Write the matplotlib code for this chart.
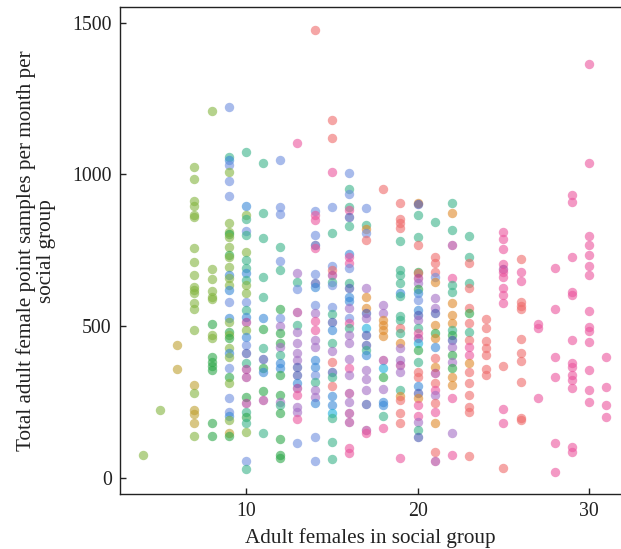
import matplotlib
matplotlib.use("Agg")
import matplotlib.pyplot as plt

# Point samples per month, listed for each adult-female count; the matching
# string gives the social group (A-M) of every value.
f04_samples = [75]
f04_groups = "D"
f05_samples = [223]
f05_groups = "D"
f06_samples = [437, 357]
f06_groups = "CC"
f07_samples = [1025, 984, 913, 896, 866, 858, 756, 710, 668, 630, 619, 608, 575, 555, 487, 305, 278, 223, 210, 179, 137]
f07_groups = "DDDDDDDDDDDDDDDCDCCCD"
f08_samples = [1209, 687, 654, 616, 597, 588, 506, 470, 462, 399, 382, 368, 355, 179, 137]
f08_groups = "DDDDDDEDDEEEEEE"
f09_samples = [1221, 1056, 1047, 1031, 1009, 979, 929, 841, 811, 803, 794, 761, 734, 726, 695, 668, 657, 635, 619, 580,
               525, 514, 481, 470, 459, 426, 410, 399, 360, 333, 311, 261, 217, 203, 190, 148, 137]
f09_groups = "IFHIDIIDDEDDEDDHDDHIHDEDEDHDIEDIIHDCE"
f10_samples = [1073, 896, 866, 852, 814, 800, 745, 717, 690, 674, 652, 635, 608, 580, 553, 531, 514, 487, 465, 437,
               410, 377, 357, 333, 267, 245, 217, 201, 179, 151, 56, 27]
f10_groups = "FHDFIFDFFHFDDIFHLDHIJFLLELFEFDIF"
f11_samples = [1036, 871, 789, 660, 594, 525, 489, 426, 390, 360, 349, 287, 256, 146]
f11_groups = "FFFFFHEFJEHELF"
f12_samples = [1047, 891, 869, 762, 715, 685, 555, 525, 500, 476, 445, 432, 404, 377, 360, 338, 272, 250, 239, 212,
               126, 75, 64]
f12_groups = "IIIFIFEIKEEKFHHEEKFEEEE"
f13_samples = [1104, 676, 646, 621, 547, 503, 481, 443, 410, 388, 366, 338, 311, 294, 272, 234, 217, 192, 113]
f13_groups = "MKFILFKKKKJJHLMKKMI"
f14_samples = [1475, 880, 866, 849, 800, 767, 756, 671, 643, 627, 569, 542, 518, 487, 454, 432, 388, 366, 338, 316,
               289, 267, 245, 135, 56]
f14_groups = "AIMMIJMIJHIKMMKKHHIFKKHII"
f15_samples = [1179, 1121, 1007, 891, 808, 698, 685, 668, 646, 635, 564, 540, 514, 487, 443, 418, 382, 349, 333, 302,
               269, 239, 212, 196, 119, 60]
f15_groups = "AAMIFIALFIIFJHFKAJFAHHGFFF"
f16_samples = [1003, 951, 935, 891, 882, 860, 830, 739, 729, 707, 690, 643, 624, 597, 584, 561, 525, 511, 492, 470,
               443, 390, 360, 338, 278, 250, 212, 185, 97, 80]
f16_groups = "IFIFMJFHMMIFJHHKIMFKKKMKLKLLMM"
f17_samples = [888, 833, 819, 808, 783, 624, 594, 558, 542, 525, 492, 470, 437, 421, 404, 355, 324, 289, 243, 157, 146]
f17_groups = "IFBIAKBBJKGJJFHKKKJLM"
f18_samples = [951, 569, 542, 520, 503, 487, 467, 388, 360, 333, 291, 250, 239, 203, 163]
f18_groups = "AKKBBBBLGEKHHFM"
f19_samples = [904, 852, 841, 822, 781, 685, 668, 643, 610, 599, 533, 520, 492, 478, 443, 426, 388, 371, 349, 289,
               269, 256, 212, 181, 64]
f19_groups = "AAAAFFFFHFFFAFBKKLKFBAAAM"
f20_samples = [904, 902, 866, 792, 767, 679, 674, 657, 641, 621, 608, 586, 553, 536, 520, 492, 476, 462, 443, 421,
               382, 349, 333, 302, 278, 261, 239, 203, 185, 157, 135]
f20_groups = "BJFFAEALKEHIHJKFMLGEFAAHJBMMKFJ"
f21_samples = [844, 729, 707, 679, 663, 646, 591, 558, 542, 503, 476, 459, 432, 393, 366, 344, 311, 289, 272, 245,
               217, 179, 86, 56]
f21_groups = "FAAAIBKKJBEBHABLAMKAMBAL"
f22_samples = [904, 871, 817, 767, 657, 635, 613, 575, 536, 509, 487, 470, 454, 432, 404, 382, 360, 333, 305, 261,
               146, 75]
f22_groups = "FBFLMFFBBBFEJKEKEBBMKM"
f23_samples = [797, 729, 707, 641, 624, 558, 542, 511, 481, 454, 432, 404, 377, 349, 311, 272, 234, 217, 71]
f23_groups = "FFAFAAEAFAMMBAAAAAA"
f24_samples = [522, 492, 452, 426, 404, 357, 338]
f24_groups = "AAAAAAA"
f25_samples = [811, 786, 753, 704, 687, 679, 660, 624, 602, 577, 368, 225, 179, 33]
f25_groups = "MMMMLMMMMMAMMA"
f26_samples = [722, 677, 647, 580, 566, 555, 457, 412, 386, 316, 195, 190]
f26_groups = "AMMAAAAAAAAA"
f27_samples = [507, 492, 261]
f27_groups = "MMM"
f28_samples = [690, 556, 397, 331, 113, 17]
f28_groups = "MMMMMM"
f29_samples = [931, 910, 726, 613, 602, 454, 377, 364, 338, 322, 294, 102, 85]
f29_groups = "MMMMMMMMMMMMM"
f30_samples = [1363, 1038, 798, 767, 734, 699, 668, 550, 498, 485, 448, 355, 289, 250]
f30_groups = "MMMMMMMMMMMMMM"
f31_samples = [399, 300, 239, 201]
f31_groups = "MMMM"

female_counts = list(range(4, 32))

group_colors = {
    "A": "#ef6b6b",  # salmon
    "B": "#e08a2a",  # orange
    "C": "#bfa030",  # olive
    "D": "#84b540",  # yellow-green
    "E": "#2ea84a",  # green
    "F": "#3ab38a",  # teal
    "G": "#1eb0dc",  # cyan
    "H": "#3a8ad8",  # blue
    "I": "#6f8fdf",  # periwinkle
    "J": "#4a58b0",  # indigo
    "K": "#a46ec5",  # lavender
    "L": "#b0409a",  # magenta
    "M": "#eb559e",  # pink
}

columns = [(n, globals()[f"f{n:02d}_samples"], globals()[f"f{n:02d}_groups"]) for n in female_counts]

plt.rcParams["font.family"] = ["Liberation Serif", "DejaVu Serif"]

fig = plt.figure(figsize=(6.21, 5.49), dpi=100)
ax = fig.add_axes([0.1932, 0.1002, 0.8068, 0.8865])

for n, samples, groups in columns:
    for value, g in zip(samples, groups):
        ax.scatter(n, value, s=46, color=group_colors[g], alpha=0.6, linewidths=0, zorder=2)

ax.set_xlim(2.66, 31.85)
ax.set_ylim(-54, 1551)
ax.set_xticks([10, 20, 30])
ax.set_yticks([0, 500, 1000, 1500])
ax.tick_params(direction="in", length=4, width=1, labelsize=14.3, colors="#222222")
ax.tick_params(axis="x", pad=6)
ax.tick_params(axis="y", pad=6)
for side in ("left", "bottom", "top"):
    ax.spines[side].set_linewidth(1.0)
    ax.spines[side].set_color("#222222")
ax.spines["right"].set_visible(False)

ax.set_xlabel("Adult females in social group", fontsize=15.2, color="#222222")
ax.set_ylabel("Total adult female point samples per month per\nsocial group", fontsize=15.2,
              color="#222222", linespacing=1.05)
ax.xaxis.set_label_coords(0.5, -0.07)
ax.yaxis.set_label_coords(-0.128, 0.5)

fig.savefig("out.png", dpi=100)
